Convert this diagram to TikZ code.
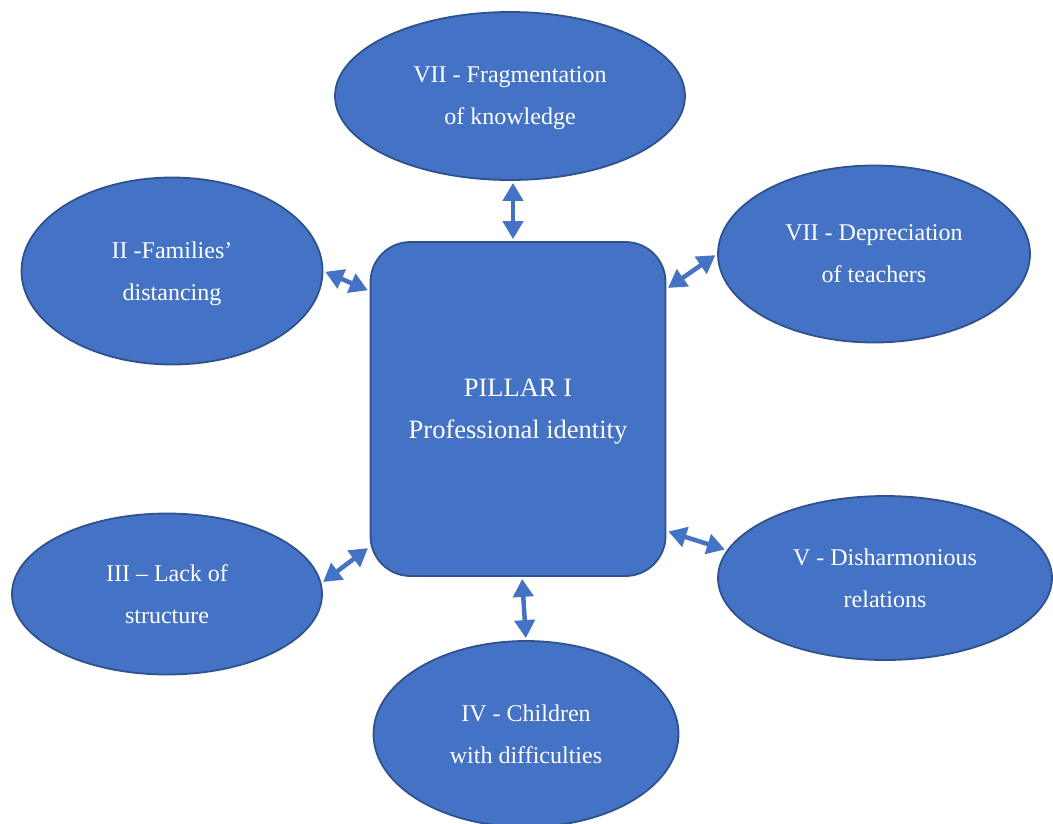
\documentclass[tikz,border=0pt]{standalone}
\usepackage{fontspec}
\setmainfont{Liberation Serif}
\usetikzlibrary{shapes.geometric}
\usetikzlibrary{arrows.meta}
\definecolor{boxblue}{HTML}{4472C4}
\definecolor{edgeblue}{HTML}{2F528F}

\begin{document}
\begin{tikzpicture}[x=1pt,y=-1pt,
  issue/.style={ellipse,draw=edgeblue,line width=1.8pt,fill=boxblue,text=white,inner sep=0pt,align=center,text depth=0pt,font=\fontsize{24}{42}\selectfont},
  pillarbox/.style={rectangle,rounded corners=40pt,draw=edgeblue,line width=1.8pt,fill=boxblue,text=white,align=center,text depth=0pt,minimum width=295pt,minimum height=334pt,font=\fontsize{26.5}{42}\selectfont},
  link/.style={{Triangle[length=18pt,width=20pt]}-{Triangle[length=18pt,width=20pt]},boxblue,line width=4.5pt,shorten <=2pt,shorten >=2pt}]
\useasboundingbox (0,0) rectangle (1053,823);

\node [pillarbox] (pillar) at (518,409) {PILLAR I\\Professional identity};
\node [issue,minimum width=350pt,minimum height=168pt] (frag) at (510,96) {VII - Fragmentation\\of knowledge};
\node [issue,minimum width=301pt,minimum height=187pt] (fam) at (172,271) {II -Families’\\distancing};
\node [issue,minimum width=312pt,minimum height=177pt] (depr) at (874,254) {VII - Depreciation\\of teachers};
\node [issue,minimum width=310pt,minimum height=161pt] (lack) at (167,594) {III – Lack of\\structure};
\node [issue,minimum width=334pt,minimum height=164pt] (dish) at (885,578) {V - Disharmonious\\relations};
\node [issue,minimum width=305pt,minimum height=186pt] (kids) at (526,734) {IV - Children\\with difficulties};

\draw [link] ([xshift=3pt]frag.south) -- ([xshift=-5pt]pillar.north);
\draw [link] (fam.east) -- ([yshift=-50pt]pillar.north west);
\draw [link] ([yshift=-48pt]pillar.north east) -- (depr.west);
\draw [link] ([yshift=46pt]pillar.south east) -- (dish.170);
\draw [link] (lack.4) -- ([yshift=30pt]pillar.south west);
\draw [link] ([xshift=4pt]pillar.south) -- (kids.north);
\end{tikzpicture}
\end{document}
